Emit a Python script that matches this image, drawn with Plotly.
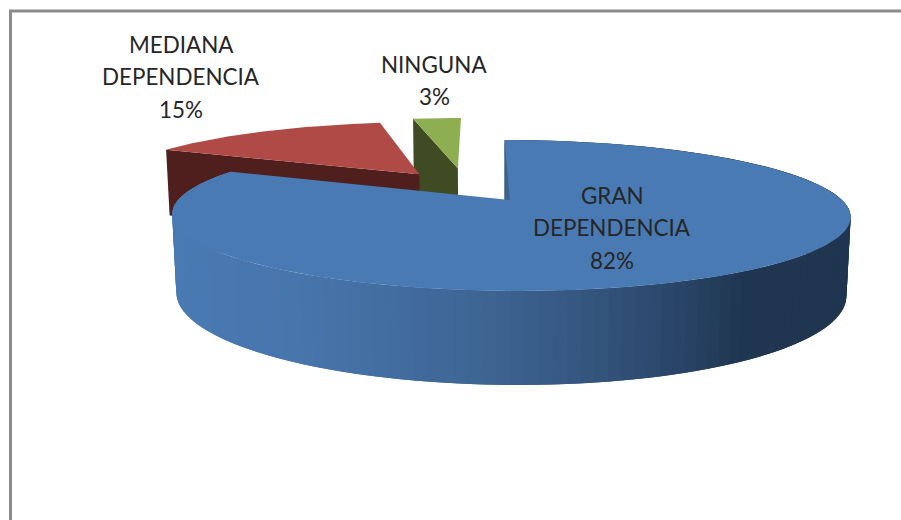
import math
import plotly.graph_objects as go

categories = ["GRAN DEPENDENCIA", "MEDIANA DEPENDENCIA", "NINGUNA"]
values = [82, 15, 3]
label_lines = [["GRAN", "DEPENDENCIA"], ["MEDIANA", "DEPENDENCIA"], ["NINGUNA"]]
label_centers = [(612, 195), (181, 44), (434, 64)]
top_colors = ["#4a7ab3", "#b04a47", "#8eae52"]
wall_colors = ["#1f3550", "#4f1f1d", "#3f4b22"]
explode = [(0.0, 0.0), (-0.287, -0.385), (-0.163, -0.48)]
depth = [1.0, 1.0, 1.3]

CX, CY, A, B, K, SKEW, H, Q = 510.0, 200.0, 332.0, 72.3, 0.205, 6.6, 77.0, 0.012
LINE_STEP = 32.5
FONT = "Lato, Carlito, sans-serif"


def project(u, v, low=False, d=1.0):
    den = 1 - K * v + (Q if low else 0)
    return CX + (A * u + SKEW * v) / den, CY + (B * v + (H * d if low else 0)) / den


def rim(theta, off):
    return math.sin(theta) + off[0], -math.cos(theta) + off[1]


def arc(t0, t1, off, low=False, n=90):
    pts = [rim(t0 + (t1 - t0) * i / n, off) for i in range(n + 1)]
    return [project(u, v, low) for u, v in pts]


def lerp_color(x):
    stops = [(170, (74, 122, 179)), (300, (71, 117, 172)), (500, (61, 99, 145)),
             (650, (45, 75, 112)), (750, (31, 53, 80)), (860, (31, 53, 80))]
    for (x0, c0), (x1, c1) in zip(stops, stops[1:]):
        if x <= x1:
            f = max(0.0, (x - x0) / (x1 - x0))
            return "rgb(%d,%d,%d)" % tuple(round(a + (b - a) * f) for a, b in zip(c0, c1))
    return "rgb(31,53,80)"


fig = go.Figure()


def poly(pts, color):
    xs = [p[0] for p in pts] + [pts[0][0]]
    ys = [p[1] for p in pts] + [pts[0][1]]
    fig.add_trace(go.Scatter(x=xs, y=ys, mode="lines", fill="toself", fillcolor=color,
                             line=dict(width=0), hoverinfo="skip", showlegend=False))


total = sum(values)
spans = []
acc = 0.0
for val in values:
    t0 = acc / total * 2 * math.pi
    acc += val
    spans.append((t0, acc / total * 2 * math.pi))

# exploded back slices, farthest first: the visible cut wall, then the top face
for idx in (2, 1):
    t0, t1 = spans[idx]
    off = explode[idx]
    d = depth[idx]
    apex, apex_low = project(off[0], off[1]), project(off[0], off[1], True, d)
    u, v = rim(t0, off)
    poly([apex, project(u, v), project(u, v, True, d), apex_low], wall_colors[idx])
    poly([apex] + arc(t0, t1, off), top_colors[idx])

# main slice: cut wall, shaded outer wall, top face
t0, t1 = spans[0]
off = explode[0]
apex, apex_low = project(0, 0), project(0, 0, True)
u0, v0 = rim(t0, off)
poly([apex, project(u0, v0), project(u0, v0, True), apex_low], wall_colors[0])

N = 150
top = arc(t0, t1, off, n=N)
low = arc(t0, t1, off, low=True, n=N)
for i in range(N):
    j = min(i + 2, N)  # overlap the next band so no seam shows
    xm = (top[i][0] + top[i + 1][0]) / 2
    poly([top[i], top[i + 1], top[j], low[j], low[i + 1], low[i]], lerp_color(xm))
poly([apex] + arc(t0, t1, off, n=240), top_colors[0])

annotations = []
for lines, center, val in zip(label_lines, label_centers, values):
    for j, text in enumerate(lines + [f"{round(val / total * 100)}%"]):
        annotations.append(dict(x=center[0], y=center[1] + j * LINE_STEP, text=text, showarrow=False,
                                xanchor="center", yanchor="middle",
                                font=dict(family=FONT, size=22.4, color="#262626")))

frame = dict(color="#8c8c8c", width=3)
fig.update_layout(
    width=901, height=520, autosize=False,
    margin=dict(l=0, r=0, t=0, b=0),
    paper_bgcolor="white", plot_bgcolor="white", showlegend=False,
    xaxis=dict(range=[0, 901], visible=False, fixedrange=True),
    yaxis=dict(range=[520, 0], visible=False, fixedrange=True),
    annotations=annotations,
    shapes=[
        dict(type="line", x0=10.5, x1=10.5, y0=10, y1=520, line=frame, layer="below"),
        dict(type="line", x0=9, x1=901, y0=11, y1=11, line=frame, layer="below"),
    ],
)
fig.write_html(
    "out.html",
    config=dict(displayModeBar=False),
    post_script="document.body.style.margin='0';document.documentElement.style.overflow='hidden';",
)
